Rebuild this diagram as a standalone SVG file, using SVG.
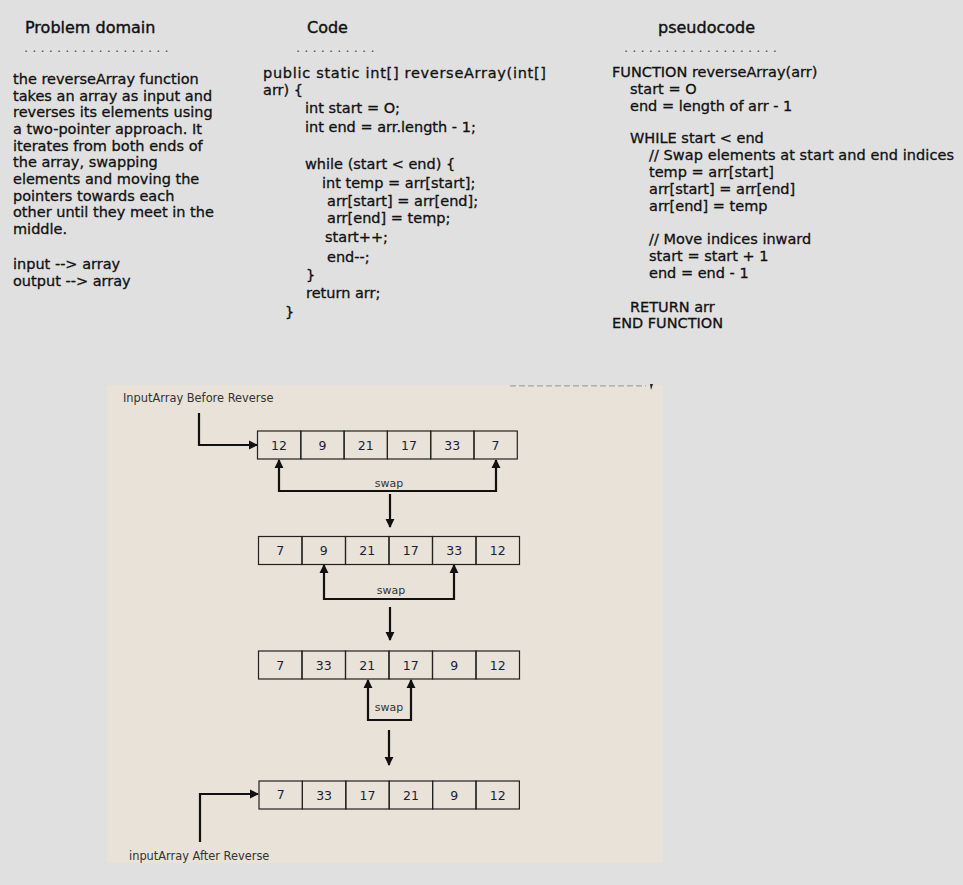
<svg xmlns="http://www.w3.org/2000/svg" width="963" height="885" viewBox="0 0 963 885">
<style>
.h{font-family:"DejaVu Sans",sans-serif;font-size:16px;fill:#111;stroke:#111;stroke-width:0.4}
.t{font-family:"DejaVu Sans",sans-serif;font-size:14.5px;fill:#111;stroke:#111;stroke-width:0.3}
.dots{font-family:"DejaVu Sans",sans-serif;font-size:13px;fill:#555}
.cell{fill:none;stroke:#222;stroke-width:1.2}
.num{font-family:"DejaVu Sans",Tahoma,sans-serif;font-size:12.5px;fill:#1c1c3a;text-anchor:middle}
.lbl{font-family:"DejaVu Sans",Tahoma,sans-serif;font-size:11.4px;fill:#333}
.sw{font-family:"DejaVu Sans",Tahoma,sans-serif;font-size:11px;fill:#333;text-anchor:middle}
.con{fill:none;stroke:#111;stroke-width:2.2}
</style>
<defs>
<marker id="ah" viewBox="0 0 10 10" refX="9" refY="5" markerWidth="4.2" markerHeight="4.2" orient="auto-start-reverse" markerUnits="strokeWidth">
<path d="M0,0 L10,5 L0,10 z" fill="#111"/>
</marker>
</defs>
<rect x="0" y="0" width="963" height="885" fill="#e0e0e0"/>

<g id="problem-domain">
<text class="h" x="25" y="33">Problem domain</text>
<text class="dots" x="24" y="52">. . . . . . . . . . . . . . . . . .</text>
<text class="t" x="13" y="84">the reverseArray function</text>
<text class="t" x="13" y="101">takes an array as input and</text>
<text class="t" x="13" y="117">reverses its elements using</text>
<text class="t" x="13" y="134">a two-pointer approach. It</text>
<text class="t" x="13" y="151">iterates from both ends of</text>
<text class="t" x="13" y="167">the array, swapping</text>
<text class="t" x="13" y="184">elements and moving the</text>
<text class="t" x="13" y="201">pointers towards each</text>
<text class="t" x="13" y="217">other until they meet in the</text>
<text class="t" x="13" y="234">middle.</text>
<text class="t" x="13" y="269">input --&gt; array</text>
<text class="t" x="13" y="286">output --&gt; array</text>
</g>

<g id="code">
<text class="h" x="307" y="33">Code</text>
<text class="dots" x="296" y="52">. . . . . . . . . .</text>
<text class="t" x="263" y="78" textLength="283" lengthAdjust="spacing">public static int[] reverseArray(int[]</text>
<text class="t" x="263" y="95">arr) {</text>
<text class="t" x="305" y="113">int start = O;</text>
<text class="t" x="305" y="132">int end = arr.length - 1;</text>
<text class="t" x="305" y="169">while (start &lt; end) {</text>
<text class="t" x="322" y="188">int temp = arr[start];</text>
<text class="t" x="327" y="206">arr[start] = arr[end];</text>
<text class="t" x="327" y="223">arr[end] = temp;</text>
<text class="t" x="325" y="242">start++;</text>
<text class="t" x="327" y="262">end--;</text>
<text class="t" x="306" y="280">}</text>
<text class="t" x="306" y="298">return arr;</text>
<text class="t" x="285" y="317">}</text>
</g>

<g id="pseudocode">
<text class="h" x="658" y="33">pseudocode</text>
<text class="dots" x="624" y="52">. . . . . . . . . . . . . . . . . . .</text>
<text class="t" x="612" y="77">FUNCTION reverseArray(arr)</text>
<text class="t" x="630" y="94">start = O</text>
<text class="t" x="630" y="111">end = length of arr - 1</text>
<text class="t" x="630" y="143">WHILE start &lt; end</text>
<text class="t" x="649" y="160" textLength="305" lengthAdjust="spacing">// Swap elements at start and end indices</text>
<text class="t" x="649" y="177">temp = arr[start]</text>
<text class="t" x="649" y="194">arr[start] = arr[end]</text>
<text class="t" x="649" y="211">arr[end] = temp</text>
<text class="t" x="649" y="244">// Move indices inward</text>
<text class="t" x="649" y="261">start = start + 1</text>
<text class="t" x="649" y="278">end = end - 1</text>
<text class="t" x="630" y="312">RETURN arr</text>
<text class="t" x="612" y="328">END FUNCTION</text>
</g>

<g id="diagram-panel">
<rect x="107" y="385" width="556" height="478" fill="#e8e2d8"/>
<line x1="510" y1="385.8" x2="646" y2="385.8" stroke="#a8a49c" stroke-width="1.2" stroke-dasharray="6,3"/>
<path d="M650,384 L653,384 L651,390 Z" fill="#222"/>
</g>

<g id="label-before">
<text class="lbl" x="123" y="402">InputArray Before Reverse</text>
</g>

<g id="array-1">
<rect class="cell" x="257.5" y="431" width="43.3" height="28"/>
<rect class="cell" x="300.8" y="431" width="43.3" height="28"/>
<rect class="cell" x="344.1" y="431" width="43.3" height="28"/>
<rect class="cell" x="387.4" y="431" width="43.3" height="28"/>
<rect class="cell" x="430.7" y="431" width="43.3" height="28"/>
<rect class="cell" x="474" y="431" width="43.3" height="28"/>
<text class="num" x="279" y="449.5">12</text>
<text class="num" x="322.5" y="449.5">9</text>
<text class="num" x="365.8" y="449.5">21</text>
<text class="num" x="409" y="449.5">17</text>
<text class="num" x="452.3" y="449.5">33</text>
<text class="num" x="495.6" y="449.5">7</text>
</g>

<g id="array-2">
<rect class="cell" x="258.5" y="536.5" width="43.5" height="28"/>
<rect class="cell" x="302" y="536.5" width="43.5" height="28"/>
<rect class="cell" x="345.5" y="536.5" width="43.5" height="28"/>
<rect class="cell" x="389" y="536.5" width="43.5" height="28"/>
<rect class="cell" x="432.5" y="536.5" width="43.5" height="28"/>
<rect class="cell" x="476" y="536.5" width="43.5" height="28"/>
<text class="num" x="280.2" y="555">7</text>
<text class="num" x="323.7" y="555">9</text>
<text class="num" x="367.2" y="555">21</text>
<text class="num" x="410.7" y="555">17</text>
<text class="num" x="454.2" y="555">33</text>
<text class="num" x="497.7" y="555">12</text>
</g>

<g id="array-3">
<rect class="cell" x="258.5" y="651" width="43.5" height="28"/>
<rect class="cell" x="302" y="651" width="43.5" height="28"/>
<rect class="cell" x="345.5" y="651" width="43.5" height="28"/>
<rect class="cell" x="389" y="651" width="43.5" height="28"/>
<rect class="cell" x="432.5" y="651" width="43.5" height="28"/>
<rect class="cell" x="476" y="651" width="43.5" height="28"/>
<text class="num" x="280.2" y="669.5">7</text>
<text class="num" x="323.7" y="669.5">33</text>
<text class="num" x="367.2" y="669.5">21</text>
<text class="num" x="410.7" y="669.5">17</text>
<text class="num" x="454.2" y="669.5">9</text>
<text class="num" x="497.7" y="669.5">12</text>
</g>

<g id="array-4">
<rect class="cell" x="259" y="781" width="43.4" height="28"/>
<rect class="cell" x="302.4" y="781" width="43.4" height="28"/>
<rect class="cell" x="345.8" y="781" width="43.4" height="28"/>
<rect class="cell" x="389.2" y="781" width="43.4" height="28"/>
<rect class="cell" x="432.6" y="781" width="43.4" height="28"/>
<rect class="cell" x="476" y="781" width="43.4" height="28"/>
<text class="num" x="280.7" y="798.5">7</text>
<text class="num" x="324.1" y="799.5">33</text>
<text class="num" x="367.5" y="799.5">17</text>
<text class="num" x="410.9" y="799.5">21</text>
<text class="num" x="454.3" y="799.5">9</text>
<text class="num" x="497.7" y="799.5">12</text>
</g>

<g id="label-after">
<text class="lbl" x="129" y="860">inputArray After Reverse</text>
</g>

<g id="connectors">
<path class="con" d="M199,413 L199,445 L257,445" marker-end="url(#ah)"/>
<path class="con" d="M279,460 L279,491 L496,491 L496,460" marker-start="url(#ah)" marker-end="url(#ah)"/>
<text class="sw" x="389" y="487">swap</text>
<path class="con" d="M390,494 L390,527" marker-end="url(#ah)"/>
<path class="con" d="M324,565 L324,599 L454,599 L454,565" marker-start="url(#ah)" marker-end="url(#ah)"/>
<text class="sw" x="391" y="594">swap</text>
<path class="con" d="M390,607 L390,640" marker-end="url(#ah)"/>
<path class="con" d="M368,680 L368,720 L411,720 L411,680" marker-start="url(#ah)" marker-end="url(#ah)"/>
<text class="sw" x="389" y="711">swap</text>
<path class="con" d="M389,730 L389,765" marker-end="url(#ah)"/>
<path class="con" d="M200,842 L200,794 L258,794" marker-end="url(#ah)"/>
</g>
</svg>
